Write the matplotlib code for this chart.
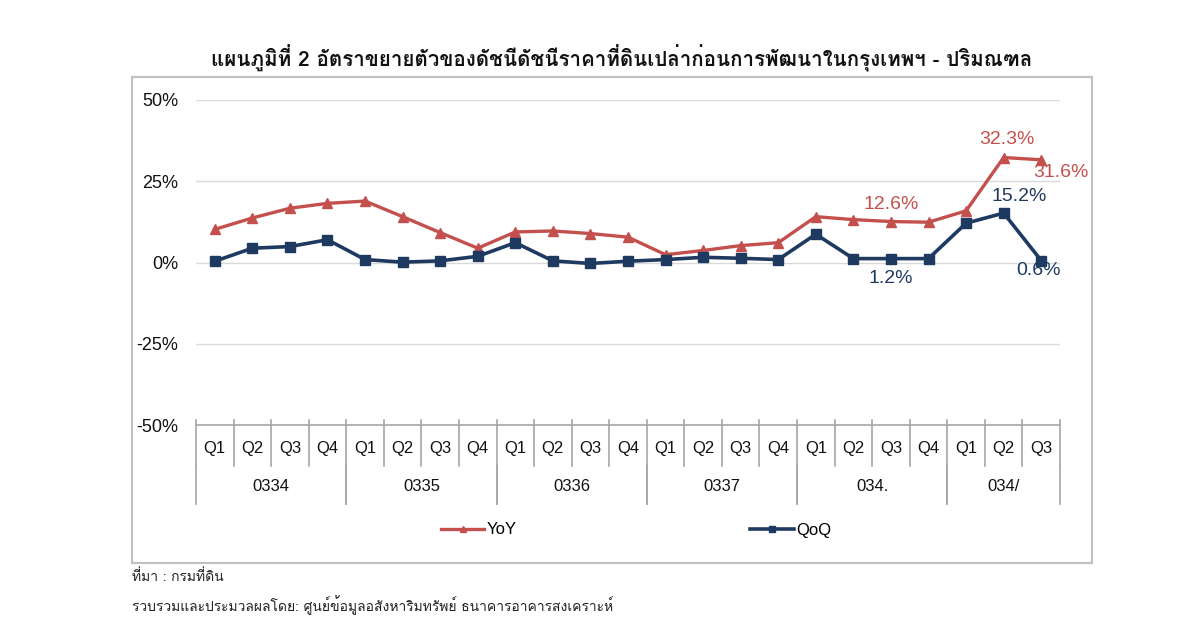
import matplotlib
matplotlib.use("Agg")
import matplotlib.pyplot as plt
from matplotlib import font_manager as fm
from matplotlib.ft2font import FT2Font
from matplotlib.patches import Rectangle

# ---------------- data ----------------
quarters = ["Q1", "Q2", "Q3", "Q4", "Q1", "Q2", "Q3", "Q4", "Q1", "Q2", "Q3", "Q4",
            "Q1", "Q2", "Q3", "Q4", "Q1", "Q2", "Q3", "Q4", "Q1", "Q2", "Q3"]
years = ["0334", "0335", "0336", "0337", "034.", "034/"]
year_sizes = [4, 4, 4, 4, 4, 3]
yoy = [10.2, 13.7, 16.7, 18.2, 18.9, 14.1, 9.2, 4.4, 9.4, 9.7, 8.9, 7.8,
       2.4, 3.7, 5.2, 6.1, 14.1, 13.2, 12.6, 12.4, 15.9, 32.3, 31.6]
qoq = [0.4, 4.4, 4.9, 7.0, 0.9, 0.1, 0.5, 1.9, 6.1, 0.5, -0.3, 0.4,
       0.9, 1.6, 1.3, 0.9, 8.7, 1.2, 1.2, 1.2, 12.1, 15.2, 0.6]
yticks = [-50, -25, 0, 25, 50]
ytick_labels = ["-50%", "-25%", "0%", "25%", "50%"]
yoy_labels = {18: "12.6%", 21: "32.3%", 22: "31.6%"}
qoq_labels = {18: "1.2%", 21: "15.2%", 22: "0.6%"}
title = "แผนภูมิที่ 2 อัตราขยายตัวของดัชนีดัชนีราคาที่ดินเปล่าก่อนการพัฒนาในกรุงเทพฯ - ปริมณฑล"
note1 = "ที่มา : กรมที่ดิน"
note2 = "รวบรวมและประมวลผลโดย: ศูนย์ข้อมูลอสังหาริมทรัพย์ ธนาคารอาคารสงเคราะห์"

RED = "#C4504D"
BLUE = "#1F3A60"

# ------------- find a Thai font -------------
thai_regular = None
thai_bold = None
for f in fm.fontManager.ttflist:
    try:
        cmap = FT2Font(f.fname).get_charmap()
    except Exception:
        continue
    if 0x0E01 in cmap and 0x0E4F in cmap:
        if f.weight in ("bold", 700, "heavy") or (isinstance(f.weight, int) and f.weight >= 600):
            thai_bold = thai_bold or f.name
        else:
            thai_regular = thai_regular or f.name
thai_fams = [n for n in (thai_regular, thai_bold) if n] + ["DejaVu Sans"]

plt.rcParams['font.family'] = ['Liberation Sans', 'DejaVu Sans']

W, H = 1200, 628
fig = plt.figure(figsize=(W / 100, H / 100), dpi=100)
fig.patch.set_facecolor("white")

def fx(px):
    return px / W

def fy(py):
    return 1 - py / H

# outer frame
fig.add_artist(Rectangle((fx(132), fy(563)), fx(1092) - fx(132), fy(77) - fy(563),
                         transform=fig.transFigure, fill=False, edgecolor="#BFBFBF", lw=1.5))

ax = fig.add_axes([fx(196), fy(425), fx(1060) - fx(196), fy(100) - fy(425)])
ax.set_facecolor("none")
x = list(range(len(quarters)))
ax.set_xlim(-0.5, len(quarters) - 0.5)
ax.set_ylim(-50, 50)

for v in yticks[1:]:
    ax.axhline(v, color="#D9D9D9", lw=1.0, zorder=1)

ax.plot(x, yoy, color=RED, lw=2.4, marker="^", ms=6.5, zorder=3, label="YoY")
ax.plot(x, qoq, color=BLUE, lw=2.6, marker="s", ms=7, zorder=4, label="QoQ")

for s in ["top", "right", "left"]:
    ax.spines[s].set_visible(False)
ax.spines["bottom"].set_color("#A6A6A6")
ax.spines["bottom"].set_linewidth(1.2)
ax.set_xticks([])
ax.set_yticks(yticks)
ax.set_yticklabels(ytick_labels)
ax.tick_params(axis="y", length=0, pad=13, labelsize=13, labelcolor="#111111")

# category table below axis
tr = ax.get_xaxis_transform()
for k in range(len(quarters) + 1):
    ax.plot([k - 0.5, k - 0.5], [0.015, -0.126], transform=tr, color="#A6A6A6",
            lw=1.2, clip_on=False)
for k, q in enumerate(quarters):
    ax.text(k, -0.071, q, transform=tr, ha="center", va="center", fontsize=12,
            color="#111111")
start = 0
for yname, n in zip(years, year_sizes):
    for b in (start, start + n):
        ax.plot([b - 0.5, b - 0.5], [-0.126, -0.243], transform=tr, color="#A6A6A6",
                lw=1.2, clip_on=False)
    ax.text(start + (n - 1) / 2, -0.19, yname, transform=tr, ha="center", va="center",
            fontsize=12, color="#111111")
    start += n

# data labels
offs_yoy = {18: (0, 12), 21: (2, 13), 22: (14, -9)}
offs_qoq = {18: (0, -14), 21: (11, 12), 22: (-2, -7)}
for i, t in yoy_labels.items():
    ax.annotate(t, (i, yoy[i]), xytext=offs_yoy[i], textcoords="offset points",
                ha="center", va="center", fontsize=14, color=RED)
for i, t in qoq_labels.items():
    ax.annotate(t, (i, qoq[i]), xytext=offs_qoq[i], textcoords="offset points",
                ha="center", va="center", fontsize=14, color=BLUE, zorder=5)

# legend
handles, labels = ax.get_legend_handles_labels()
leg = fig.legend(handles, labels, loc="center", bbox_to_anchor=(fx(636), fy(530)),
                 ncol=2, frameon=False, fontsize=12, handlelength=2.6,
                 handletextpad=0.15, columnspacing=14, markerscale=0.7)

# title and notes
fig.text(fx(622), fy(58), title, ha="center", va="center", fontsize=14.8,
         fontweight="bold", family=thai_fams, color="#111111")
fig.text(fx(132), fy(577), note1, ha="left", va="center", fontsize=10,
         family=thai_fams, color="#222222")
fig.text(fx(132), fy(605), note2, ha="left", va="center", fontsize=10,
         family=thai_fams, color="#222222")

fig.savefig("out.png", dpi=100, facecolor="white")
